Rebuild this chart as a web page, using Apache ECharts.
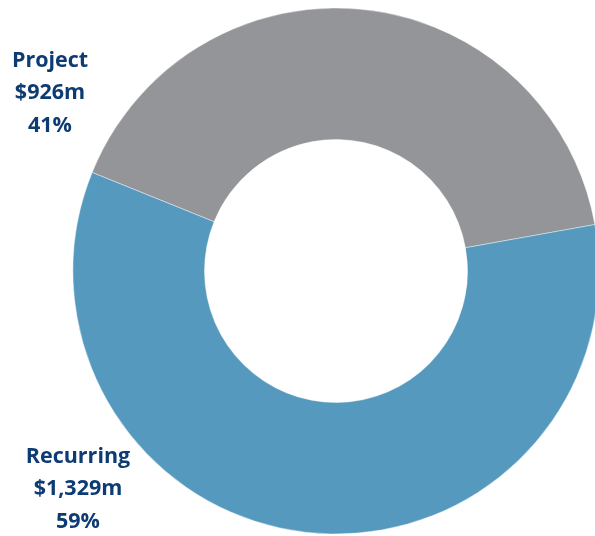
<!DOCTYPE html>
<html>
<head>
<meta charset="utf-8">
<script src="https://cdn.jsdelivr.net/npm/echarts@6/dist/echarts.min.js"></script>
<style>
  html, body { margin: 0; padding: 0; background: #ffffff; }
  #chart { width: 595px; height: 536px; }
</style>
</head>
<body>
<div id="chart"></div>
<script>
// Revenue split by type, in $ millions
const categories = ['Project', 'Recurring'];
const values = [926, 1329];
const colors = ['#939598', '#5599be'];
// Label anchor points (px) for each slice's text block
const labelAnchors = [[50, 93], [78, 489]];

const chart = echarts.init(document.getElementById('chart'), null, { renderer: 'canvas' });

chart.setOption({
  animation: false,
  series: [{
    type: 'pie',
    center: [336, 271],
    radius: [131.5, 263],
    startAngle: 158,
    clockwise: true,
    percentPrecision: 0,
    avoidLabelOverlap: false,
    itemStyle: { borderColor: 'rgba(255,255,255,0.7)', borderWidth: 0.6 },
    data: categories.map((name, i) => ({
      name,
      value: values[i],
      itemStyle: { color: colors[i] }
    })),
    label: {
      show: true,
      position: 'outside',
      formatter: p => p.name + '\n$' + p.value.toLocaleString('en-US') + 'm\n' + p.percent + '%',
      color: '#0d3b73',
      fontFamily: 'Open Sans',
      fontWeight: 'bold',
      fontSize: 21.5,
      lineHeight: 32.5,
      align: 'center'
    },
    labelLine: { show: false },
    labelLayout: params => ({
      x: labelAnchors[params.dataIndex][0],
      y: labelAnchors[params.dataIndex][1],
      align: 'center',
      verticalAlign: 'middle'
    })
  }]
});
</script>
</body>
</html>
